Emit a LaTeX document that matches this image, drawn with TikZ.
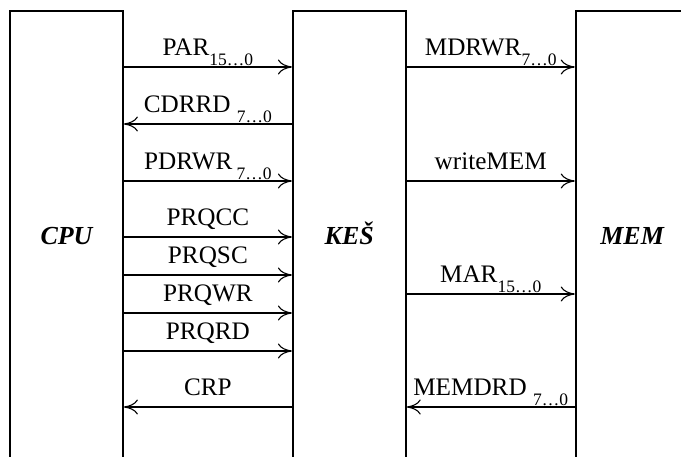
\documentclass[tikz,border=0pt]{standalone}
\usepackage{fontspec}
\setmainfont{Liberation Serif}
\usetikzlibrary{arrows.meta, positioning}

\newcommand{\rng}[1]{\raisebox{-10pt}{\fontsize{17.5}{18}\selectfont #1}}

\tikzset{
  unit/.style={draw, line width=1.8pt, minimum width=113pt, minimum height=452pt,
               text height=18pt, text depth=2pt,
               font=\fontsize{26}{30}\selectfont\bfseries\itshape},
  sig/.style={line width=1.1pt, -{To[length=14pt,width=15pt]}},
  lbl/.style={anchor=base, yshift=11.5pt, inner sep=0pt, font=\fontsize{25.2}{29}\selectfont}
}

\begin{document}
\begin{tikzpicture}[x=1pt, y=-1pt, node distance=168pt]
  \useasboundingbox (0,0) rectangle (681,457);

  % the three units
  \node[unit] (cpu) at (66.5,237) {CPU};
  \node[unit, right=of cpu] (kes) {KEŠ};
  \node[unit, right=of kes] (mem) {MEM};

  % CPU <-> KES
  \draw[sig] ([yshift=170pt]cpu.east) -- ([yshift=170pt]kes.west)
    node[midway, lbl] {PAR\rng{15…0}};
  \draw[sig] ([yshift=113pt]kes.west) -- ([yshift=113pt]cpu.east)
    node[midway, lbl] {CDRRD\ \rng{7…0}};
  \draw[sig] ([yshift=56pt]cpu.east) -- ([yshift=56pt]kes.west)
    node[midway, lbl] {PDRWR\,\rng{7…0}};
  \draw[sig] (cpu.east) -- (kes.west)
    node[midway, lbl] {PRQCC};
  \draw[sig] ([yshift=-38pt]cpu.east) -- ([yshift=-38pt]kes.west)
    node[midway, lbl] {PRQSC};
  \draw[sig] ([yshift=-76pt]cpu.east) -- ([yshift=-76pt]kes.west)
    node[midway, lbl] {PRQWR};
  \draw[sig] ([yshift=-114pt]cpu.east) -- ([yshift=-114pt]kes.west)
    node[midway, lbl] {PRQRD};
  \draw[sig] ([yshift=-170pt]kes.west) -- ([yshift=-170pt]cpu.east)
    node[midway, lbl] {CRP};

  % KES <-> MEM
  \draw[sig] ([yshift=170pt]kes.east) -- ([yshift=170pt]mem.west)
    node[midway, lbl] {MDRWR\rng{7…0}};
  \draw[sig] ([yshift=56pt]kes.east) -- ([yshift=56pt]mem.west)
    node[midway, lbl] {writeMEM};
  \draw[sig] ([yshift=-57pt]kes.east) -- ([yshift=-57pt]mem.west)
    node[midway, lbl] {MAR\rng{15…0}};
  \draw[sig] ([yshift=-170pt]mem.west) -- ([yshift=-170pt]kes.east)
    node[midway, lbl] {MEMDRD\ \rng{7…0}};
\end{tikzpicture}
\end{document}
